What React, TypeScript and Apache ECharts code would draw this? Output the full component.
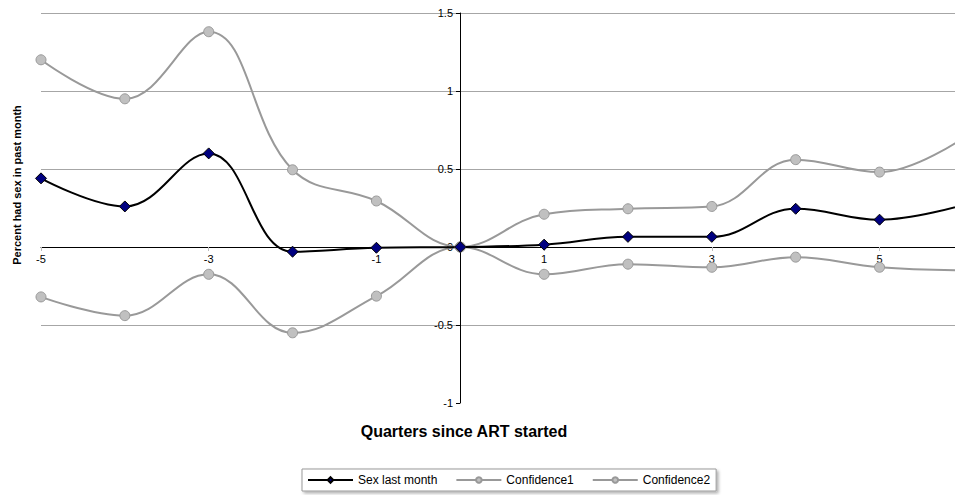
import React, { useEffect, useRef } from "react";
import * as echarts from "echarts";

const quarters = [-5, -4, -3, -2, -1, 0, 1, 2, 3, 4, 5, 6];
const sexLastMonth = [0.44, 0.26, 0.6, -0.03, -0.005, 0, 0.015, 0.065, 0.065, 0.245, 0.175, 0.27];
const confidence1 = [1.2, 0.95, 1.38, 0.495, 0.295, 0, 0.21, 0.245, 0.26, 0.56, 0.48, 0.7];
const confidence2 = [-0.32, -0.44, -0.175, -0.55, -0.315, 0, -0.175, -0.11, -0.13, -0.065, -0.13, -0.15];

const xTitle = "Quarters since ART started";
const yTitle = "Percent had sex in past month";

const pairs = (ys: number[]) => quarters.map((q, i) => [q, ys[i]]);

export default function App() {
  const ref = useRef<HTMLDivElement>(null);
  useEffect(() => {
    if (!ref.current) return;
    const chart = echarts.init(ref.current, null, { renderer: "svg" });
    const font = "'Liberation Sans', Arial, sans-serif";
    const grayLine = { color: "#999999", width: 2 };
    const grayItem = { color: "#c0c0c0", borderColor: "#999999", borderWidth: 1 };
    chart.setOption({
      animation: false,
      textStyle: { fontFamily: font },
      grid: { left: 41, right: 0, top: 13, bottom: 92, containLabel: false, outerBoundsMode: "none" },
      xAxis: {
        type: "value",
        min: -5,
        max: 5.9,
        interval: 2,
        offset: -156,
        axisLine: { onZero: false, lineStyle: { color: "#000", width: 1 } },
        axisTick: { show: true, length: 4, lineStyle: { color: "#bbb" } },
        axisLabel: { color: "#000", fontSize: 11, fontFamily: font, showMaxLabel: false, margin: 6 },
        splitLine: { show: false },
      },
      yAxis: {
        type: "value",
        min: -1,
        max: 1.5,
        interval: 0.5,
        offset: -419,
        axisLine: { onZero: false, lineStyle: { color: "#000", width: 1 } },
        axisTick: { show: true, length: 4, lineStyle: { color: "#000" } },
        axisLabel: { color: "#000", fontSize: 11, fontFamily: font, margin: 7 },
        splitLine: {
          show: true,
          showMinLine: false,
          lineStyle: { color: ["#a6a6a6", "#a6a6a6", "#a6a6a6", "#a6a6a6", "#a6a6a6", "#eeeeee"], width: 1 },
        },
      },
      graphic: [
        {
          type: "text",
          x: 464,
          y: 431,
          style: { text: xTitle, font: `bold 16px ${font}`, fill: "#000", textAlign: "center", textVerticalAlign: "middle" },
        },
        {
          type: "text",
          x: 17,
          y: 185,
          rotation: Math.PI / 2,
          style: { text: yTitle, font: `bold 11px ${font}`, fill: "#000", textAlign: "center", textVerticalAlign: "middle" },
        },
      ],
      legend: {
        left: 302,
        top: 469,
        itemWidth: 45,
        itemHeight: 7,
        itemGap: 18,
        padding: [5, 6, 5, 5],
        borderColor: "#999",
        borderWidth: 1,
        backgroundColor: "#fff",
        shadowColor: "rgba(0,0,0,0.3)",
        shadowBlur: 3,
        shadowOffsetX: 2,
        shadowOffsetY: 2,
        textStyle: { fontSize: 12, color: "#000", fontFamily: font },
        data: ["Sex last month", "Confidence1", "Confidence2"],
      },
      series: [
        {
          name: "Confidence1",
          type: "line",
          data: pairs(confidence1),
          smooth: 0.4,
          symbol: "circle",
          symbolSize: 10,
          lineStyle: grayLine,
          itemStyle: grayItem,
          clip: true,
        },
        {
          name: "Confidence2",
          type: "line",
          data: pairs(confidence2),
          smooth: 0.4,
          symbol: "circle",
          symbolSize: 10,
          lineStyle: grayLine,
          itemStyle: grayItem,
          clip: true,
        },
        {
          name: "Sex last month",
          type: "line",
          data: pairs(sexLastMonth),
          smooth: 0.4,
          symbol: "diamond",
          symbolSize: 11,
          lineStyle: { color: "#000", width: 2 },
          itemStyle: { color: "#000080", borderColor: "#000", borderWidth: 1 },
          clip: true,
        },
      ],
    });
    return () => chart.dispose();
  }, []);
  return <div ref={ref} style={{ width: 955, height: 495, position: "absolute", left: 0, top: 0 }} />;
}
